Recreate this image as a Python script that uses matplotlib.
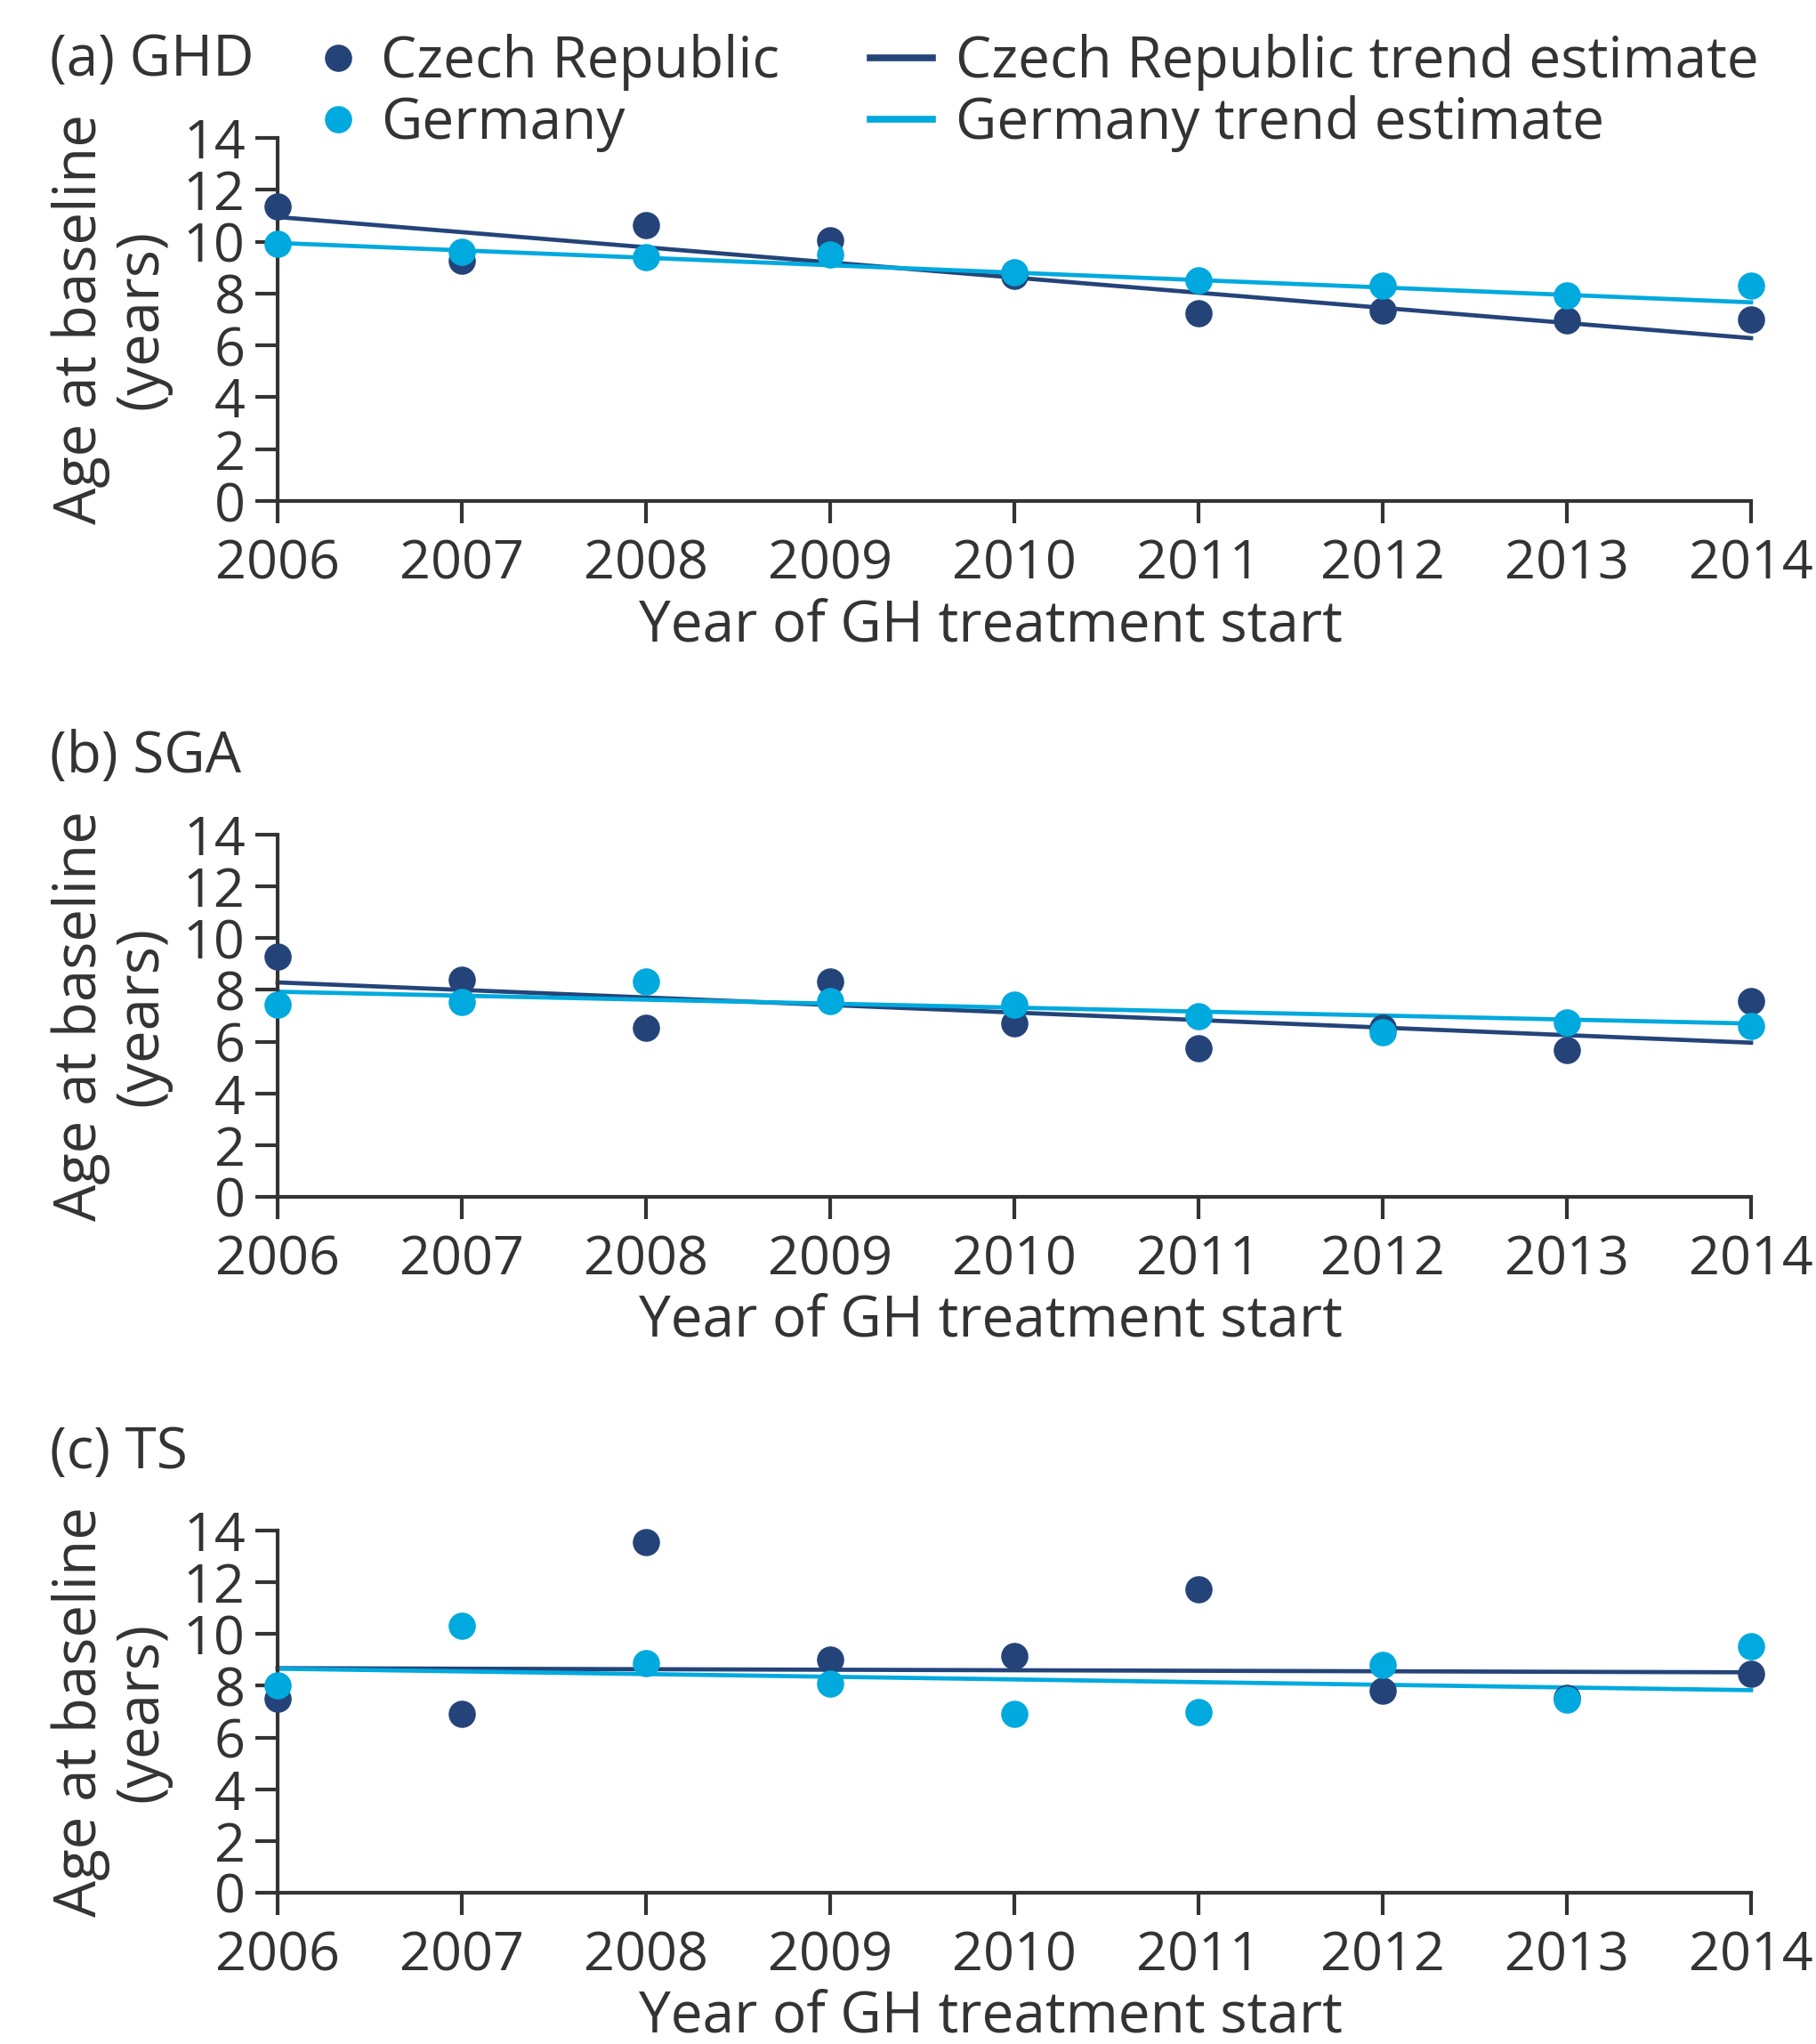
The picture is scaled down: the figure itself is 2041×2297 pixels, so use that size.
import matplotlib
matplotlib.use("Agg")
import matplotlib.pyplot as plt
from matplotlib.lines import Line2D

plt.rcParams["font.family"] = ["Open Sans", "DejaVu Sans"]

navy = "#244479"
cyan = "#00a9de"
ink = "#333333"

years = [2006, 2007, 2008, 2009, 2010, 2011, 2012, 2013, 2014]
trend_years = [2006, 2014]

# (a) GHD
ghd_cz = [11.35, 9.25, 10.63, 10.05, 8.67, 7.25, 7.34, 6.97, 7.0]
ghd_de = [9.92, 9.6, 9.4, 9.52, 8.82, 8.52, 8.32, 7.91, 8.32]
ghd_cz_trend = [10.95, 6.28]
ghd_de_trend = [9.95, 7.66]

# (b) SGA
sga_cz = [9.28, 8.41, 6.54, 8.31, 6.7, 5.74, 6.55, 5.67, 7.58]
sga_de = [7.43, 7.54, 8.31, 7.58, 7.42, 6.99, 6.35, 6.75, 6.62]
sga_cz_trend = [8.29, 5.96]
sga_de_trend = [7.93, 6.7]

# (c) TS
ts_cz = [7.5, 6.9, 13.55, 9.01, 9.16, 11.73, 7.8, 7.55, 8.46]
ts_de = [8.0, 10.32, 8.86, 8.1, 6.9, 7.0, 8.81, 7.45, 9.52]
ts_cz_trend = [8.68, 8.52]
ts_de_trend = [8.66, 7.83]

panels = [
    ("(a) GHD", ghd_cz, ghd_de, ghd_cz_trend, ghd_de_trend),
    ("(b) SGA", sga_cz, sga_de, sga_cz_trend, sga_de_trend),
    ("(c) TS", ts_cz, ts_de, ts_cz_trend, ts_de_trend),
]

W, H = 2041, 2297
fig = plt.figure(figsize=(W / 100, H / 100), dpi=100)

left, right = 312, 1968
tops = [155, 938, 1720]
bottoms = [563, 1345, 2127]

for i, (title, cz, de, czt, det) in enumerate(panels):
    ax = fig.add_axes([left / W, 1 - bottoms[i] / H, (right - left) / W,
                       (bottoms[i] - tops[i]) / H])
    ax.plot(trend_years, czt, color=navy, lw=3.4, zorder=2, clip_on=False)
    ax.plot(trend_years, det, color=cyan, lw=3.4, zorder=2, clip_on=False)
    ax.plot(years, cz, "o", color=navy, ms=21, zorder=3, clip_on=False)
    ax.plot(years, de, "o", color=cyan, ms=21, zorder=4, clip_on=False)

    ax.set_xlim(2006, 2014)
    ax.set_ylim(0, 14)
    ax.set_xticks(years)
    ax.set_yticks(range(0, 15, 2))
    for s in ["top", "right"]:
        ax.spines[s].set_visible(False)
    for s in ["left", "bottom"]:
        ax.spines[s].set_linewidth(3)
        ax.spines[s].set_color(ink)
    ax.tick_params(axis="both", direction="out", length=18, width=3,
                   color=ink, labelcolor=ink, labelsize=44)
    ax.tick_params(axis="y", pad=8)
    ax.tick_params(axis="x", pad=12)

    ax.set_ylabel("Age at baseline\n(years)", fontsize=47, color=ink,
                  linespacing=1.05)
    ax.yaxis.set_label_coords(-0.072, 0.5)
    ax.set_xlabel("Year of GH treatment start", fontsize=46, color=ink)
    ax.xaxis.set_label_coords(0.484, -0.265)

    fig.text(56 / W, 1 - (tops[i] - 70) / H, title, fontsize=46, color=ink,
             va="baseline", ha="left")

    if i == 0:
        pts = [Line2D([], [], ls="none", marker="o", ms=21, color=navy),
               Line2D([], [], ls="none", marker="o", ms=21, color=cyan)]
        lns = [Line2D([], [], color=navy, lw=5.5),
               Line2D([], [], color=cyan, lw=5.5)]
        leg1 = fig.legend(pts, ["Czech Republic", "Germany"],
                          loc="upper left", bbox_to_anchor=(316 / W, 1 - 6 / H),
                          frameon=False, fontsize=46, handlelength=1.0,
                          handletextpad=0.25, labelspacing=0.08, borderpad=0,
                          labelcolor=ink)
        leg2 = fig.legend(lns, ["Czech Republic trend estimate",
                                "Germany trend estimate"],
                          loc="upper left", bbox_to_anchor=(946 / W, 1 - 6 / H),
                          frameon=False, fontsize=46, handlelength=1.1,
                          handletextpad=0.4, labelspacing=0.08, borderpad=0,
                          labelcolor=ink)

fig.savefig("out.png", dpi=100)
